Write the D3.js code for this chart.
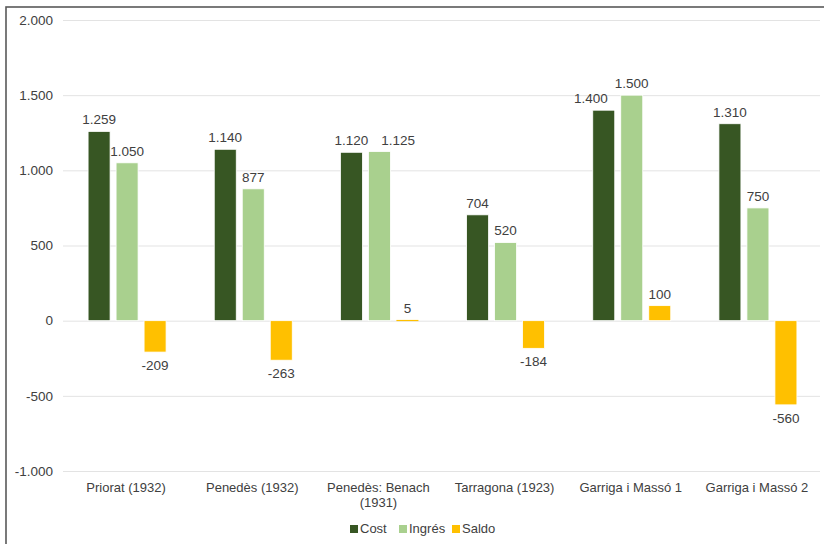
<!DOCTYPE html>
<html><head><meta charset="utf-8">
<script src="https://cdn.jsdelivr.net/npm/d3@7"></script>
<style>body{margin:0;background:#fff;} svg{display:block;font-family:"Liberation Sans",Arial,sans-serif;}</style>
</head><body>
<svg id="c" width="824" height="544"></svg>
<script>
const categories = [["Priorat (1932)"],["Penedès (1932)"],["Penedès: Benach","(1931)"],["Tarragona (1923)"],["Garriga i Massó 1"],["Garriga i Massó 2"]];
const seriesNames = ["Cost","Ingrés","Saldo"];
const cost = [1259,1140,1120,704,1400,1310];
const ingres = [1050,877,1125,520,1500,750];
const saldo = [-209,-263,5,-184,100,-560];
const yTicks = [-1000,-500,0,500,1000,1500,2000];
const colors = ["#375623","#A9D08E","#FFC000"];
const values = [cost, ingres, saldo];

const svg = d3.select("#c");
const m = {l:63, r:820, t:20, b:471};
const x0 = d3.scaleBand().domain(d3.range(categories.length)).range([m.l,m.r]);
const x1 = d3.scaleBand().domain(d3.range(3)).range([-42,42]);
const y = d3.scaleLinear().domain([-1000,2000]).range([m.b,m.t]);
const fmt = v => d3.format(",")(v).replace(/,/g,".").replace(/\u2212/g,"-");

// border
svg.append("rect").attr("x",6).attr("y",7).attr("width",830).attr("height",560)
  .attr("fill","none").attr("stroke","#595959").attr("stroke-width",1.6);

// gridlines
const yAxis = d3.axisLeft(y).tickValues(yTicks).tickSize(-(m.r-m.l)).tickFormat(fmt);
const gy = svg.append("g").attr("transform",`translate(${m.l},0)`).call(yAxis);
gy.select(".domain").remove();
gy.selectAll(".tick line").attr("stroke","#e3e3e3").attr("stroke-width",1);
gy.selectAll(".tick text").attr("x",-10).attr("fill","#404040").style("font-size","13.5px").style("font-family","Liberation Sans, Arial, sans-serif");

// bars
const bw = 22;
const labelSel = [];
values.forEach((arr,si)=>{
  const g = svg.append("g");
  g.selectAll("rect").data(arr).join("rect")
    .attr("x",(d,i)=>x0(i)+x0.bandwidth()/2+x1(si)+x1.bandwidth()/2-bw/2+1)
    .attr("y",d=>y(Math.max(0,d)))
    .attr("width",bw)
    .attr("height",d=>Math.max(1.2,Math.abs(y(d)-y(0))))
    .attr("fill",colors[si])
    .attr("stroke",d=>Math.abs(y(d)-y(0))>3?"#fff":"none").attr("stroke-width",0.8);
  labelSel.push(g.selectAll("text").data(arr).join("text")
    .attr("x",(d,i)=>x0(i)+x0.bandwidth()/2+x1(si)+x1.bandwidth()/2+1)
    .attr("y",d=>d>=0? y(d)-7 : y(d)+18)
    .attr("text-anchor","middle").attr("fill","#404040").style("font-size","13.5px")
    .text(d=>fmt(d)));
});
// resolve crowded labels within a category
categories.forEach((c,i)=>{
  for(let s=1;s<3;s++){
    const cur = labelSel[s].nodes()[i];
    const prev = labelSel[s-1].nodes()[i];
    const a = prev.getBBox(), b = cur.getBBox();
    const vOverlap = a.y < b.y+b.height && b.y < a.y+a.height;
    const vNear = a.y < b.y+b.height+6 && b.y < a.y+a.height+6;
    if(vOverlap && b.x < a.x+a.width+4){
      const shift = a.x+a.width+13 - b.x;
      cur.setAttribute("x", +cur.getAttribute("x")+shift);
    } else if(vNear && b.x < a.x+a.width+4){
      const shift = a.x+a.width+7 - b.x;
      prev.setAttribute("x", +prev.getAttribute("x")-shift);
    }
  }
});

// category labels
const gx = svg.append("g");
categories.forEach((lines,i)=>{
  const t = gx.append("text").attr("x",x0(i)+x0.bandwidth()/2).attr("y",492)
    .attr("text-anchor","middle").attr("fill","#404040").style("font-size","13px");
  lines.forEach((l,j)=>t.append("tspan").attr("x",x0(i)+x0.bandwidth()/2).attr("dy",j?15:0).text(l));
});

// legend
const lx = [350,399,452];
seriesNames.forEach((n,i)=>{
  svg.append("rect").attr("x",lx[i]).attr("y",525).attr("width",8).attr("height",8).attr("fill",colors[i]);
  svg.append("text").attr("x",lx[i]+10).attr("y",533).attr("fill","#404040").style("font-size","13px").text(n);
});
</script>
</body></html>
